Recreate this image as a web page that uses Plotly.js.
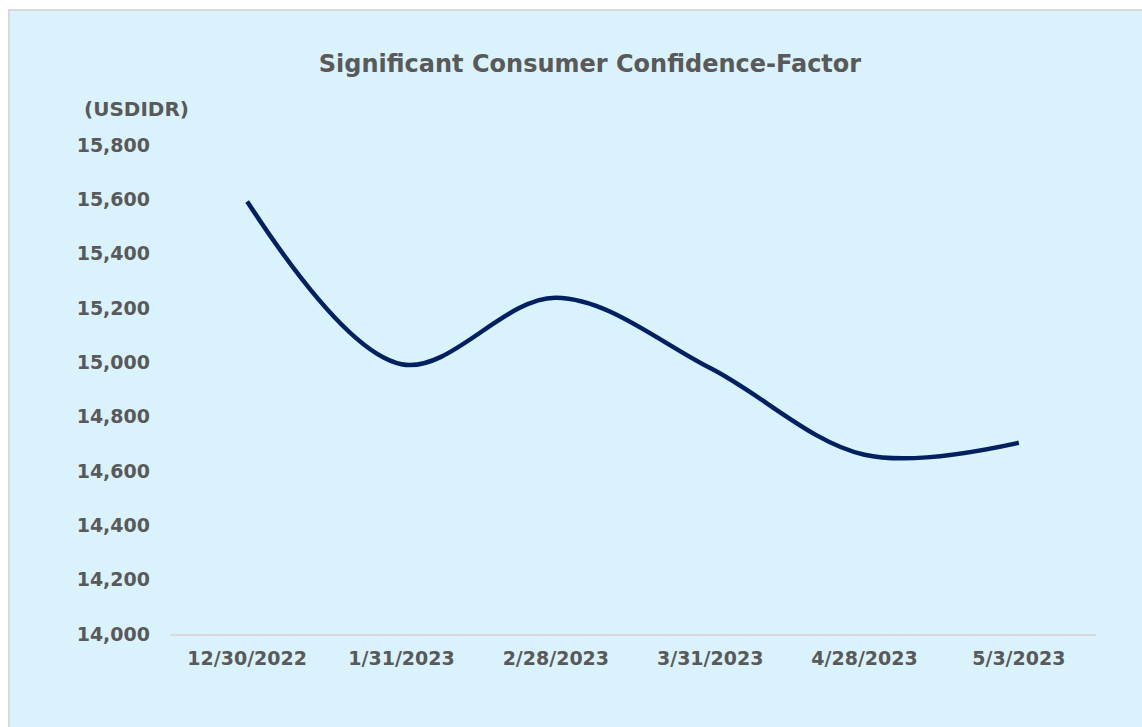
<!DOCTYPE html>
<html>
<head>
<meta charset="utf-8">
<script src="https://cdn.plot.ly/plotly-3.0.1.min.js"></script>
<style>
  html, body { margin: 0; padding: 0; background: #ffffff; width: 1142px; height: 727px; overflow: hidden; }
  #panel { position: absolute; left: 8px; top: 9px; width: 1134px; height: 718px; background: #daf2fc; border-left: 2px solid #d9d9d9; border-top: 2px solid #d9d9d9; box-sizing: border-box; }
  #chart { position: absolute; left: 0; top: 0; width: 1142px; height: 727px; }
</style>
</head>
<body>
<div id="panel"></div>
<div id="chart"></div>
<script>
const chartTitle = "Significant Consumer Confidence-Factor";
const unitLabel = "(USDIDR)";
const dates = ["12/30/2022", "1/31/2023", "2/28/2023", "3/31/2023", "4/28/2023", "5/3/2023"];
const usdidr = [15592, 14993, 15238, 14979, 14660, 14704];
const yTickVals = [14000, 14200, 14400, 14600, 14800, 15000, 15200, 15400, 15600, 15800];

const fontFam = "'DejaVu Sans', Verdana, sans-serif";
const grey = "#595959";

const trace = {
  x: dates,
  y: usdidr,
  type: "scatter",
  mode: "lines",
  line: { color: "#002060", width: 4.5, shape: "spline", smoothing: 1 },
  hoverinfo: "x+y"
};

const layout = {
  width: 1142,
  height: 727,
  paper_bgcolor: "rgba(0,0,0,0)",
  plot_bgcolor: "rgba(0,0,0,0)",
  margin: { l: 170, r: 46, t: 145, b: 93 },
  showlegend: false,
  title: {
    text: "<b>" + chartTitle + "</b>",
    font: { family: fontFam, size: 24, color: grey },
    x: 590 / 1142, xref: "container", xanchor: "center",
    y: 1 - 64 / 727, yref: "container", yanchor: "middle"
  },
  xaxis: {
    type: "category",
    range: [-0.5, 5.5],
    showgrid: false,
    zeroline: false,
    showline: true,
    linecolor: "#d9d9d9",
    linewidth: 2,
    ticks: "",
    ticklabelstandoff: 6,
    tickfont: { family: fontFam, size: 19, color: grey, weight: "bold" },
    fixedrange: true
  },
  yaxis: {
    range: [14000, 15800],
    tickvals: yTickVals,
    tickformat: ",d",
    showgrid: false,
    zeroline: false,
    showline: false,
    ticks: "",
    ticklabelstandoff: 19,
    tickfont: { family: fontFam, size: 19, color: grey, weight: "bold" },
    fixedrange: true
  },
  annotations: [{
    text: "<b>" + unitLabel + "</b>",
    xref: "paper", yref: "paper",
    x: (82 - 170) / 926, y: (634 - 109) / 489,
    xanchor: "left", yanchor: "middle",
    showarrow: false,
    font: { family: fontFam, size: 20, color: grey }
  }]
};

Plotly.newPlot("chart", [trace], layout, { displayModeBar: false, staticPlot: true });
</script>
</body>
</html>
